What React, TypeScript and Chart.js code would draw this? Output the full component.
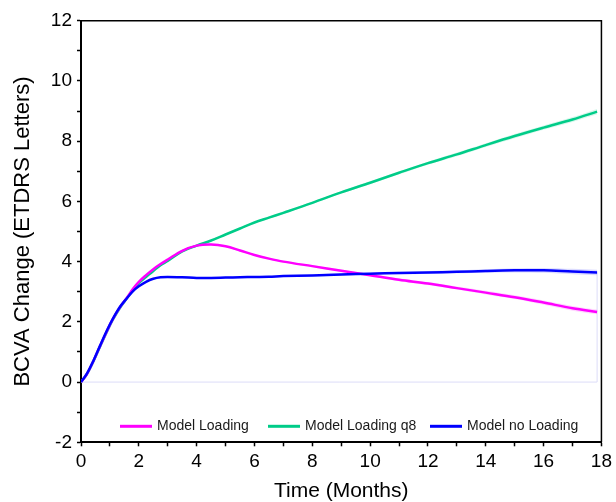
import React, { useEffect, useRef } from 'react';
import { Chart, registerables } from 'chart.js';

Chart.register(...registerables);

// Time (months)
const months = [0, 0.2, 0.43, 0.66, 0.9, 1.1, 1.35, 1.6, 1.8, 2.0, 2.25, 2.5, 2.75, 3, 3.5, 4, 4.5, 5, 5.5, 6, 6.5, 7, 8, 9, 10, 11, 12, 13, 14, 15, 16, 17, 17.85];

// BCVA change series
const modelLoading = [0, 0.26, 0.7, 1.2, 1.7, 2.09, 2.49, 2.82, 3.1, 3.33, 3.55, 3.75, 3.92, 4.07, 4.36, 4.53, 4.57, 4.51, 4.37, 4.22, 4.1, 4.0, 3.85, 3.7, 3.55, 3.4, 3.27, 3.12, 2.97, 2.82, 2.64, 2.45, 2.33];
const modelLoadingQ8 = [0, 0.26, 0.69, 1.18, 1.68, 2.07, 2.47, 2.8, 3.07, 3.29, 3.49, 3.69, 3.88, 4.02, 4.34, 4.53, 4.7, 4.9, 5.1, 5.3, 5.46, 5.62, 5.95, 6.3, 6.62, 6.95, 7.27, 7.56, 7.87, 8.17, 8.45, 8.72, 8.98];
const modelNoLoading = [0, 0.27, 0.71, 1.21, 1.72, 2.1, 2.5, 2.8, 3.02, 3.18, 3.33, 3.43, 3.48, 3.49, 3.48, 3.46, 3.46, 3.47, 3.48, 3.49, 3.5, 3.52, 3.54, 3.57, 3.6, 3.62, 3.64, 3.66, 3.69, 3.71, 3.71, 3.67, 3.64];

// Half widths of the shaded uncertainty bands
const bandLoading = [0, 0.01, 0.01, 0.02, 0.02, 0.02, 0.02, 0.02, 0.02, 0.02, 0.02, 0.02, 0.02, 0.02, 0.03, 0.03, 0.03, 0.03, 0.03, 0.03, 0.03, 0.03, 0.04, 0.04, 0.04, 0.05, 0.05, 0.05, 0.06, 0.06, 0.07, 0.08, 0.08];
const bandLoadingQ8 = [0, 0.01, 0.01, 0.02, 0.02, 0.02, 0.02, 0.02, 0.02, 0.02, 0.02, 0.02, 0.02, 0.02, 0.03, 0.03, 0.03, 0.03, 0.03, 0.03, 0.04, 0.04, 0.04, 0.04, 0.05, 0.05, 0.05, 0.06, 0.06, 0.07, 0.07, 0.08, 0.09];
const bandNoLoading = [0, 0.01, 0.01, 0.02, 0.02, 0.02, 0.02, 0.02, 0.02, 0.02, 0.02, 0.02, 0.02, 0.02, 0.03, 0.03, 0.03, 0.03, 0.03, 0.03, 0.03, 0.03, 0.03, 0.04, 0.04, 0.04, 0.05, 0.05, 0.06, 0.07, 0.08, 0.09, 0.09];

// Faint outline seen in the reference
const outlineX = [0, 17.85, 17.85];
const outlineY = [0, 0, 3.64];

const seriesLabels = ['Model Loading', 'Model Loading q8', 'Model no Loading'];
const seriesColors = ['#ff00ff', '#00cc88', '#0000ff'];
const bandColors = ['rgba(255,0,255,0.16)', 'rgba(0,204,136,0.16)', 'rgba(0,0,255,0.14)'];

const xTicksMin = 0;
const xTicksMax = 18;
const yTicksMin = -2;
const yTicksMax = 12;

const FONT = '"Liberation Sans", Arial, Helvetica, sans-serif';

const legendOffsets = [39, 187, 349];

const insideLegend = {
  id: 'insideLegend',
  afterDatasetsDraw(chart: any) {
    const { ctx, chartArea } = chart;
    const y = chartArea.bottom - 16;
    ctx.save();
    ctx.font = `14px ${FONT}`;
    ctx.textBaseline = 'middle';
    ctx.textAlign = 'left';
    seriesLabels.forEach((label, i) => {
      const x = chartArea.left + legendOffsets[i];
      ctx.strokeStyle = seriesColors[i];
      ctx.lineWidth = 3;
      ctx.beginPath();
      ctx.moveTo(x, y);
      ctx.lineTo(x + 32, y);
      ctx.stroke();
      ctx.fillStyle = '#1a1a1a';
      ctx.fillText(label, x + 37, y);
    });
    ctx.restore();
  },
};

const frame = {
  id: 'frame',
  afterDraw(chart: any) {
    const { ctx, chartArea } = chart;
    ctx.save();
    ctx.strokeStyle = '#000';
    ctx.lineWidth = 1.5;
    ctx.beginPath();
    ctx.moveTo(chartArea.left, chartArea.top);
    ctx.lineTo(chartArea.right, chartArea.top);
    ctx.lineTo(chartArea.right, chartArea.bottom);
    ctx.stroke();
    ctx.restore();
  },
};

export default function App() {
  const canvasRef = useRef<HTMLCanvasElement | null>(null);

  useEffect(() => {
    if (!canvasRef.current) return;
    const series = [modelLoading, modelLoadingQ8, modelNoLoading];
    const bands = [bandLoading, bandLoadingQ8, bandNoLoading];
    const lineOrder = [1, 2, 0];
    const datasets: any[] = [];
    series.forEach((vals, s) => {
      datasets.push({
        label: seriesLabels[s],
        data: months.map((t, i) => ({ x: t, y: vals[i] })),
        borderColor: seriesColors[s],
        borderWidth: 2.5,
        pointRadius: 0,
        fill: false,
        tension: 0.35,
        order: lineOrder[s],
      });
    });
    series.forEach((vals, s) => {
      datasets.push({
        label: seriesLabels[s] + ' upper',
        data: months.map((t, i) => ({ x: t, y: vals[i] + bands[s][i] })),
        borderWidth: 0,
        borderColor: 'rgba(0,0,0,0)',
        pointRadius: 0,
        fill: false,
        tension: 0.35,
        order: 5,
      });
      datasets.push({
        label: seriesLabels[s] + ' lower',
        data: months.map((t, i) => ({ x: t, y: vals[i] - bands[s][i] })),
        borderWidth: 0,
        borderColor: 'rgba(0,0,0,0)',
        backgroundColor: bandColors[s],
        pointRadius: 0,
        fill: '-1',
        tension: 0.35,
        order: 5,
      });
    });
    datasets.push({
      label: 'outline',
      data: outlineX.map((x, i) => ({ x, y: outlineY[i] })),
      borderColor: '#dcdcf8',
      borderWidth: 1,
      pointRadius: 0,
      fill: false,
      tension: 0,
      order: 20,
    });

    const chart = new Chart(canvasRef.current, {
      type: 'line',
      data: { datasets },
      plugins: [insideLegend, frame],
      options: {
        animation: false,
        responsive: true,
        maintainAspectRatio: false,
        layout: { padding: { left: 0, right: 13, top: 20.7, bottom: 0 } },
        plugins: {
          legend: { display: false },
          tooltip: { enabled: false },
        },
        scales: {
          x: {
            type: 'linear',
            min: xTicksMin,
            max: xTicksMax,
            ticks: {
              stepSize: 1,
              autoSkip: false,
              maxRotation: 0,
              color: '#000',
              padding: 4,
              font: { family: FONT, size: 19 },
              callback: (v: any) => (Number(v) % 2 === 0 ? String(v) : ''),
            },
            grid: {
              drawOnChartArea: false,
              drawTicks: true,
              tickLength: 4,
              tickColor: '#000',
              tickWidth: 1.5,
            },
            border: { display: true, color: '#000', width: 2 },
            title: {
              display: true,
              text: 'Time (Months)',
              color: '#000',
              font: { family: FONT, size: 21, lineHeight: 1 },
              padding: { top: 0, bottom: 0 },
            },
            afterFit: (s: any) => {
              s.height = 59.7;
            },
          },
          y: {
            type: 'linear',
            min: yTicksMin,
            max: yTicksMax,
            ticks: {
              stepSize: 1,
              autoSkip: false,
              color: '#000',
              padding: 5,
              font: { family: FONT, size: 19 },
              callback: (v: any) => (Number(v) % 2 === 0 ? String(v) : ''),
            },
            grid: {
              drawOnChartArea: false,
              drawTicks: true,
              tickLength: 4,
              tickColor: '#000',
              tickWidth: 1.5,
            },
            border: { display: true, color: '#000', width: 2 },
            title: {
              display: true,
              text: 'BCVA Change (ETDRS Letters)',
              color: '#000',
              font: { family: FONT, size: 22, lineHeight: 1 },
              padding: { top: 12, bottom: 0 },
            },
            afterFit: (s: any) => {
              s.width = 81;
            },
          },
        },
      },
    });
    return () => chart.destroy();
  }, []);

  return (
    <div style={{ position: 'absolute', left: 0, top: 0, width: 616, height: 502, background: '#fff' }}>
      <canvas ref={canvasRef} />
    </div>
  );
}
